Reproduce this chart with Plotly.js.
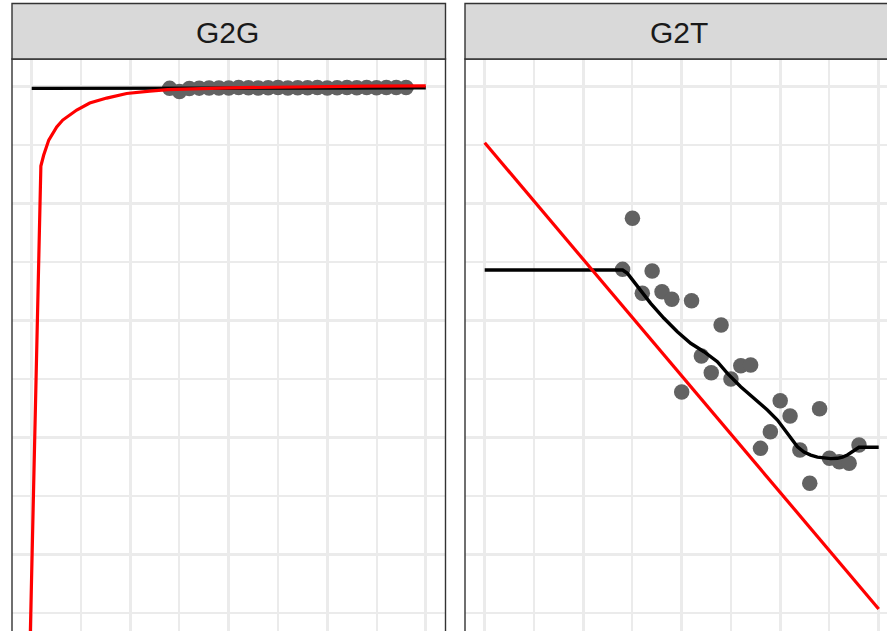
<!DOCTYPE html>
<html><head><meta charset="utf-8">
<script src="https://cdn.plot.ly/plotly-3.0.1.min.js"></script>
<style>html,body{margin:0;padding:0;background:#fff;overflow:hidden}</style>
</head><body><div id="chart" style="width:887px;height:631px"></div>
<script>
// ---- data ----
const panels = ["G2G", "G2T"];
const xPts = [1.4, 1.5, 1.6, 1.7, 1.8, 1.9, 2.0, 2.1, 2.2, 2.3, 2.4, 2.5, 2.6, 2.7, 2.8, 2.9, 3.0, 3.1, 3.2, 3.3, 3.4, 3.5, 3.6, 3.7, 3.8];
const g2gPts = [3.980, 3.953, 3.979, 3.982, 3.983, 3.984, 3.983, 3.987, 3.986, 3.983, 3.985, 3.987, 3.984, 3.986, 3.985, 3.987, 3.984, 3.986, 3.988, 3.985, 3.987, 3.986, 3.988, 3.987, 3.988];
const g2tPts = [2.433, 2.869, 2.228, 2.419, 2.242, 2.177, 1.385, 2.165, 1.692, 1.550, 1.957, 1.496, 1.609, 1.615, 0.903, 1.045, 1.310, 1.179, 0.889, 0.604, 1.242, 0.818, 0.789, 0.775, 0.932];

const g2gFitX = [0.0, 1.4, 1.6, 2.0, 2.6, 3.2, 3.8, 4.0];
const g2gFitY = [3.980, 3.980, 3.976, 3.978, 3.981, 3.983, 3.985, 3.985];
const g2tFitX = [0.0, 1.4, 1.449, 1.550, 1.685, 1.820, 1.956, 2.091, 2.226, 2.362, 2.464, 2.599, 2.734, 2.870, 2.972, 3.073, 3.175, 3.242, 3.310, 3.378, 3.445, 3.513, 3.581, 3.632, 3.682, 3.741, 3.800, 4.0];
const g2tFitY = [2.427, 2.427, 2.399, 2.285, 2.143, 2.015, 1.900, 1.801, 1.729, 1.644, 1.544, 1.430, 1.331, 1.231, 1.145, 1.032, 0.917, 0.872, 0.846, 0.828, 0.818, 0.815, 0.818, 0.828, 0.846, 0.880, 0.912, 0.912];

const g2gRefX = [-0.020, 0.093, 0.122, 0.173, 0.254, 0.315, 0.457, 0.589, 0.761, 0.964, 1.198, 1.381, 2.0, 2.721, 3.4, 4.0];
const g2gRefY = [-0.906, 3.316, 3.410, 3.538, 3.650, 3.709, 3.795, 3.855, 3.897, 3.936, 3.957, 3.970, 3.985, 3.995, 3.999, 4.002];
const g2tRefX = [0.0, 4.0];
const g2tRefY = [3.515, -0.470];

// ---- style ----
const W = 887, H = 631;
const GRID = '#EBEBEB';
const ptColor = '#626262';

const traces = [
  {x: xPts, y: g2gPts, xaxis: 'x', yaxis: 'y', mode: 'markers', type: 'scatter',
   marker: {size: 15.5, color: ptColor}, hoverinfo: 'skip'},
  {x: g2gFitX, y: g2gFitY, xaxis: 'x', yaxis: 'y', mode: 'lines', type: 'scatter',
   line: {color: '#000000', width: 3.4}, hoverinfo: 'skip'},
  {x: g2gRefX, y: g2gRefY, xaxis: 'x', yaxis: 'y', mode: 'lines', type: 'scatter',
   line: {color: '#FF0000', width: 3.2}, hoverinfo: 'skip'},
  {x: xPts, y: g2tPts, xaxis: 'x2', yaxis: 'y2', mode: 'markers', type: 'scatter',
   marker: {size: 15.5, color: ptColor}, hoverinfo: 'skip'},
  {x: g2tFitX, y: g2tFitY, xaxis: 'x2', yaxis: 'y2', mode: 'lines', type: 'scatter',
   line: {color: '#000000', width: 3.4}, hoverinfo: 'skip'},
  {x: g2tRefX, y: g2tRefY, xaxis: 'x2', yaxis: 'y2', mode: 'lines', type: 'scatter',
   line: {color: '#FF0000', width: 3.2}, hoverinfo: 'skip'}
];

const stripTop = (H - 3.5) / H;
const panelTop = (H - 59) / H;
const yRange = [-0.658, 4.231];

function ax(domain, range, anchor) {
  return {
    domain: domain, range: range, anchor: anchor,
    tick0: 0, dtick: 1, showticklabels: false, ticks: '',
    showgrid: true, gridcolor: GRID, gridwidth: 3,
    minor: {tick0: 0, dtick: 0.5, showgrid: true, gridcolor: GRID, gridwidth: 2, ticks: ''},
    zeroline: false, showline: false, fixedrange: true
  };
}

const L0 = 12, L1 = 445.5, R0 = 465;
const layout = {
  width: W, height: H,
  margin: {l: 0, r: 0, t: 0, b: 0, pad: 0},
  paper_bgcolor: '#FFFFFF', plot_bgcolor: '#FFFFFF',
  showlegend: false,
  xaxis: ax([L0 / W, L1 / W], [-0.2, 4.2], 'y'),
  yaxis: ax([0, panelTop], yRange, 'x'),
  xaxis2: ax([R0 / W, 1], [-0.2, -0.2 + (W - R0) / 98.5], 'y2'),
  yaxis2: Object.assign(ax([0, panelTop], yRange, 'x2'), {matches: 'y'}),
  shapes: [
    {type: 'rect', xref: 'paper', yref: 'paper', x0: L0 / W, x1: L1 / W, y0: -0.2, y1: panelTop,
     line: {color: '#333333', width: 1.4}, fillcolor: 'rgba(0,0,0,0)', layer: 'above'},
    {type: 'rect', xref: 'paper', yref: 'paper', x0: R0 / W, x1: 1.2, y0: -0.2, y1: panelTop,
     line: {color: '#333333', width: 1.4}, fillcolor: 'rgba(0,0,0,0)', layer: 'above'},
    {type: 'rect', xref: 'paper', yref: 'paper', x0: L0 / W, x1: L1 / W, y0: panelTop, y1: stripTop,
     line: {color: '#333333', width: 1.4}, fillcolor: '#D9D9D9', layer: 'above'},
    {type: 'rect', xref: 'paper', yref: 'paper', x0: R0 / W, x1: 1.2, y0: panelTop, y1: stripTop,
     line: {color: '#333333', width: 1.4}, fillcolor: '#D9D9D9', layer: 'above'}
  ],
  annotations: [
    {text: panels[0], xref: 'paper', yref: 'paper', x: 228 / W, y: (H - 32) / H,
     xanchor: 'center', yanchor: 'middle', showarrow: false,
     font: {family: 'Liberation Sans, Arial, sans-serif', size: 30, color: '#1A1A1A'}},
    {text: panels[1], xref: 'paper', yref: 'paper', x: 679 / W, y: (H - 32) / H,
     xanchor: 'center', yanchor: 'middle', showarrow: false,
     font: {family: 'Liberation Sans, Arial, sans-serif', size: 30, color: '#1A1A1A'}}
  ]
};

Plotly.newPlot('chart', traces, layout, {staticPlot: true, displayModeBar: false});
</script></body></html>
